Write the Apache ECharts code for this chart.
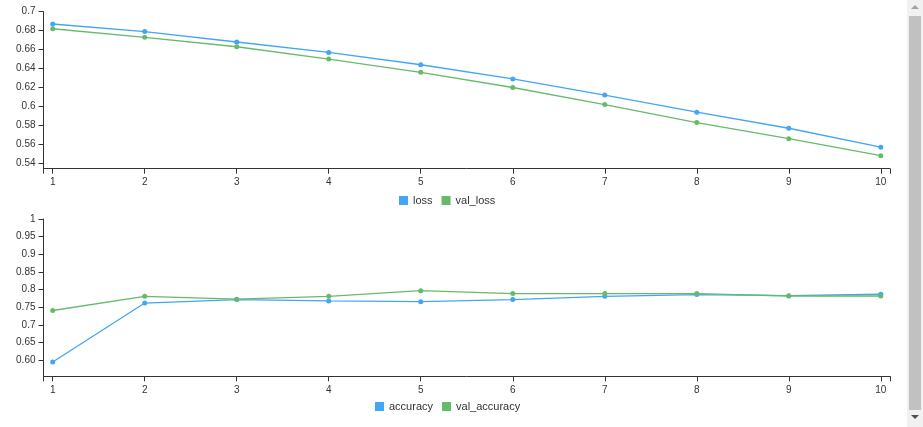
<!DOCTYPE html>
<html><head><meta charset="utf-8">
<script src="https://cdn.jsdelivr.net/npm/echarts@6/dist/echarts.min.js"></script>
<style>
html,body{margin:0;padding:0;background:#fff;overflow:hidden}
#chart{position:absolute;left:0;top:0;width:923px;height:427px}
#sb{position:absolute;left:907px;top:0;width:16px;height:427px;background:#f1f1f1}
#thumb{position:absolute;left:2px;top:16px;width:12px;height:394px;background:#c1c1c1}
#up{position:absolute;left:4px;top:5px;width:0;height:0;border-left:4px solid transparent;border-right:4px solid transparent;border-bottom:4px solid #a3a3a3}
#down{position:absolute;left:4px;top:415px;width:0;height:0;border-left:4px solid transparent;border-right:4px solid transparent;border-top:4px solid #505050}
</style></head>
<body>
<div id="chart"></div>
<div id="sb"><div id="up"></div><div id="thumb"></div><div id="down"></div></div>
<script>
const epochs = [1, 2, 3, 4, 5, 6, 7, 8, 9, 10];
const loss = [0.687, 0.679, 0.668, 0.657, 0.644, 0.629, 0.612, 0.594, 0.577, 0.557];
const valLoss = [0.682, 0.673, 0.663, 0.650, 0.636, 0.620, 0.602, 0.583, 0.566, 0.548];
const accuracy = [0.595, 0.762, 0.772, 0.768, 0.766, 0.772, 0.781, 0.786, 0.783, 0.787];
const valAccuracy = [0.741, 0.781, 0.773, 0.781, 0.797, 0.789, 0.789, 0.789, 0.782, 0.782];
const lossTicks = [0.54, 0.56, 0.58, 0.6, 0.62, 0.64, 0.66, 0.68, 0.7];
const lossTickLabels = ['0.54', '0.56', '0.58', '0.6', '0.62', '0.64', '0.66', '0.68', '0.7'];
const accTicks = [0.6, 0.65, 0.7, 0.75, 0.8, 0.85, 0.9, 0.95, 1];
const accTickLabels = ['0.60', '0.65', '0.7', '0.75', '0.8', '0.85', '0.9', '0.95', '1'];
const xTickExtents = [0.9, 10.1];

const FONT = '"Liberation Sans", Arial, sans-serif';
const BLUE = '#42A5F5', GREEN = '#66BB6A', AX = '#333';

function pairs(ys) { return epochs.map((e, i) => [e, ys[i]]); }
function labelFor(ticks, labels) {
  return v => { const i = ticks.findIndex(t => Math.abs(t - v) < 1e-6); return i >= 0 ? labels[i] : ''; };
}
function xAxis(gi) {
  return {
    type: 'value', gridIndex: gi, min: xTickExtents[0], max: xTickExtents[1],
    axisLine: { show: true, onZero: false, lineStyle: { color: AX, width: 1 } },
    axisTick: { show: true, length: 5, customValues: [xTickExtents[0]].concat(epochs, [xTickExtents[1]]), lineStyle: { color: AX } },
    axisLabel: { customValues: epochs, fontSize: 10, color: AX, fontFamily: FONT, margin: 9 },
    splitLine: { show: false }
  };
}
function yAxis(gi, min, max, ticks, labels) {
  return {
    type: 'value', gridIndex: gi, min: min, max: max,
    axisLine: { show: true, lineStyle: { color: AX, width: 1 } },
    axisTick: { show: true, length: 5, customValues: ticks, lineStyle: { color: AX } },
    axisLabel: { customValues: ticks, formatter: labelFor(ticks, labels), fontSize: 10, color: AX, fontFamily: FONT, margin: 8 },
    splitLine: { show: false }
  };
}
function line(name, ys, color, xi) {
  return {
    name: name, type: 'line', xAxisIndex: xi, yAxisIndex: xi, data: pairs(ys),
    symbol: 'circle', symbolSize: 5, showSymbol: true,
    lineStyle: { color: color, width: 1.3 }, itemStyle: { color: color }
  };
}
const chart = echarts.init(document.getElementById('chart'), null, { renderer: 'canvas' });
chart.setOption({
  animation: false,
  grid: [
    { left: 43.5, right: 33, top: 11.7, height: 157 },
    { left: 43.5, right: 33, top: 219, height: 157.3 }
  ],
  xAxis: [xAxis(0), xAxis(1)],
  yAxis: [
    yAxis(0, 0.5343, 0.7, lossTicks, lossTickLabels),
    yAxis(1, 0.5547, 1, accTicks, accTickLabels)
  ],
  legend: [
    { data: ['loss', 'val_loss'], left: 399, top: 195, padding: 0, icon: 'rect', itemWidth: 9, itemHeight: 9, itemGap: 9,
      textStyle: { fontSize: 11, color: AX, fontFamily: FONT } },
    { data: ['accuracy', 'val_accuracy'], left: 375, top: 401, padding: 0, icon: 'rect', itemWidth: 9, itemHeight: 9, itemGap: 9,
      textStyle: { fontSize: 11, color: AX, fontFamily: FONT } }
  ],
  series: [
    line('loss', loss, BLUE, 0),
    line('val_loss', valLoss, GREEN, 0),
    line('accuracy', accuracy, BLUE, 1),
    line('val_accuracy', valAccuracy, GREEN, 1)
  ]
});
</script>
</body></html>
